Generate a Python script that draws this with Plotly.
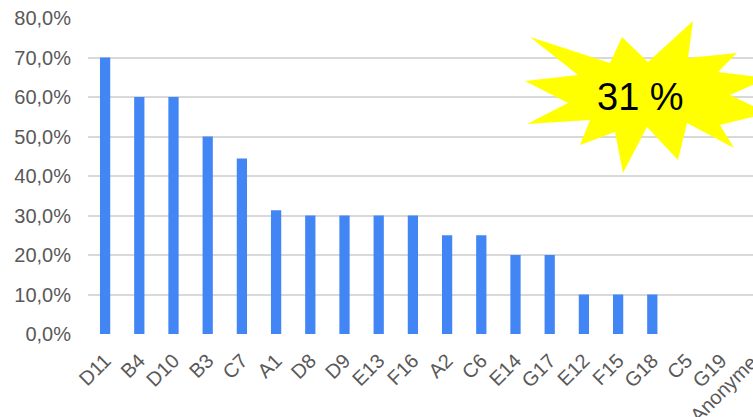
import plotly.graph_objects as go

categories = ["D11", "B4", "D10", "B3", "C7", "A1", "D8", "D9", "E13", "F16",
              "A2", "C6", "E14", "G17", "E12", "F15", "G18", "C5", "G19", "Anonyme"]
values = [0.70, 0.60, 0.60, 0.50, 0.444, 0.313, 0.30, 0.30, 0.30, 0.30,
          0.25, 0.25, 0.20, 0.20, 0.10, 0.10, 0.10, 0.0, 0.0, 0.0]
y_ticks = [0, 0.1, 0.2, 0.3, 0.4, 0.5, 0.6, 0.7, 0.8]
badge_text = "31 %"

W, H = 753, 417
ML, MR, MT, MB = 88, 0, 18, 83
pw, ph = W - ML - MR, H - MT - MB
cat_px = 34.2
xr = [-0.5, -0.5 + pw / cat_px]
FONT = "Liberation Sans, Arial"
GRAY = "#595959"
FS = 20

fig = go.Figure()
fig.add_trace(go.Bar(
    x=list(range(len(categories))), y=values,
    marker=dict(color="#4285f4", line=dict(width=0)),
    width=0.3,
))

# starburst shape (pixel coords -> paper)
star_px = [(530, 37), (610, 63), (622, 37), (648, 62), (693, 21), (688, 58),
           (737, 53), (718, 72), (768, 78), (730, 95), (768, 113), (720, 125),
           (734, 148), (687, 123), (678, 160), (647, 127), (623, 173), (615, 132),
           (580, 145), (590, 120), (527, 124), (568, 103), (525, 81), (578, 75)]
def to_paper(p):
    return ((p[0] - ML) / pw, (H - MB - p[1]) / ph)
pts = [to_paper(p) for p in star_px]
path = "M " + " L ".join(f"{x:.4f},{y:.4f}" for x, y in pts) + " Z"
fig.add_shape(type="path", path=path, xref="paper", yref="paper",
              fillcolor="#ffff00", line=dict(width=0), layer="above")
cx, cy = to_paper((640, 97))
fig.add_annotation(x=cx, y=cy, xref="paper", yref="paper", text=badge_text,
                   showarrow=False, xanchor="center", yanchor="middle",
                   font=dict(size=38, color="#000000", family=FONT))

# last category label (outside visible range, cut by the edge)
last_idx = len(categories) - 1
lx = (last_idx - xr[0]) / (xr[1] - xr[0]) + 9 / pw
fig.add_annotation(x=lx, y=-14 / ph, xref="paper", yref="paper",
                   text=categories[last_idx], showarrow=False, textangle=-45,
                   xanchor="right", yanchor="top",
                   font=dict(size=FS, color=GRAY, family=FONT))

fig.update_layout(
    width=W, height=H,
    margin=dict(l=ML, r=MR, t=MT, b=MB),
    plot_bgcolor="white", paper_bgcolor="white",
    separators=",.",
    showlegend=False,
    font=dict(family=FONT, size=FS, color=GRAY),
    xaxis=dict(
        range=xr, tickmode="array", tickvals=list(range(len(categories))),
        ticktext=categories, tickangle=-45, showgrid=False, zeroline=False,
        showline=False, ticks="", ticklabelstandoff=10,
        tickfont=dict(size=FS, color=GRAY, family=FONT),
    ),
    yaxis=dict(
        range=[0, 0.8], tickvals=y_ticks, tickformat=".1%",
        showgrid=True, gridcolor="#d9d9d9", gridwidth=1.5, zeroline=False,
        showline=False, ticks="", ticklabelstandoff=16,
        tickfont=dict(size=FS, color=GRAY, family=FONT),
    ),
)

fig.write_html("out.html")
